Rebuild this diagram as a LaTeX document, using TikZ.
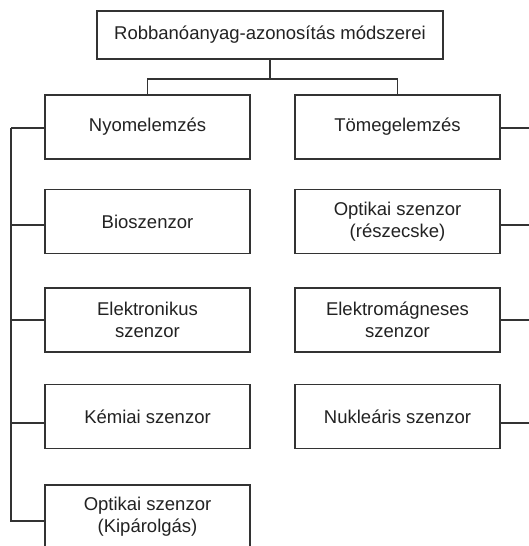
\documentclass[tikz,border=0pt]{standalone}
\usepackage{fontspec}
\setmainfont{Liberation Sans}
\definecolor{linec}{HTML}{333333}
\definecolor{textc}{HTML}{222222}
\begin{document}
\begin{tikzpicture}[x=1pt,y=-1pt,
  box/.style={draw=linec,line width=1.2pt,minimum width=205pt,minimum height=64pt,
    inner sep=0pt,align=center,text=textc,font=\fontsize{18.5}{22}\selectfont},
  topbox/.style={box,minimum width=346pt,minimum height=48pt},
  conn/.style={draw=linec,line width=1.1pt}]
\useasboundingbox (0,0) rectangle (529,546);
\clip (0,0) rectangle (529,546);
\fill[white] (0,0) rectangle (529,546);
\node[topbox] (top) at (270,35) {Robbanóanyag-azonosítás módszerei};
\node[box] (l1) at (147.5,127) {Nyomelemzés};
\node[box] (l2) at (147.5,221.5) {Bioszenzor};
\node[box] (l3) at (147.5,320) {Elektronikus\\szenzor};
\node[box] (l4) at (147.5,416.5) {Kémiai szenzor};
\node[box] (l5) at (147.5,517) {Optikai szenzor\\(Kipárolgás)};
\node[box] (r1) at (397.5,127) {Tömegelemzés};
\node[box] (r2) at (397.5,221.5) {Optikai szenzor\\(részecske)};
\node[box] (r3) at (397.5,320) {Elektromágneses\\szenzor};
\node[box] (r4) at (397.5,416.5) {Nukleáris szenzor};
\coordinate (split) at (270,79);
\coordinate (lbus) at (11,0);
\coordinate (rbus) at (540,0);
\draw[conn] (top.south) -- (split);
\draw[conn] (l1.north) |- (split) -| (r1.north);
\draw[conn] (l1.west) ++(0,1) coordinate (a1) -- (lbus |- a1);
\draw[conn] (l5.west) ++(0,4) coordinate (b5) -- (lbus |- b5) -- (lbus |- a1);
\foreach \n/\d in {l2/3.5,l3/0,l4/6.5}{
  \draw[conn] (\n.west) ++(0,\d) coordinate (t) -- (lbus |- t);
}
\foreach \n/\d in {r1/1,r2/3.5,r3/0,r4/6.5}{
  \draw[conn] (\n.east) ++(0,\d) coordinate (t) -- (rbus |- t);
}
\end{tikzpicture}
\end{document}
